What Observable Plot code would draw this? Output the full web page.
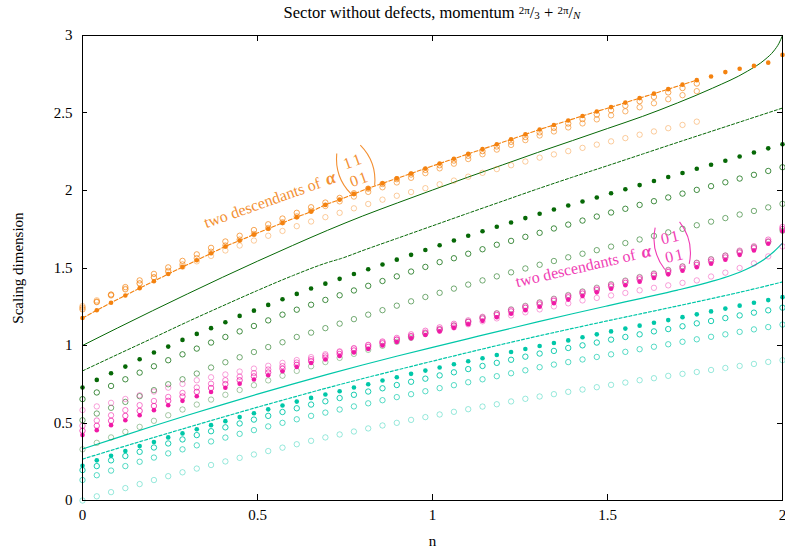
<!DOCTYPE html>
<html>
<head>
<meta charset="utf-8">
<script src="https://cdn.jsdelivr.net/npm/d3@7"></script>
<script src="https://cdn.jsdelivr.net/npm/@observablehq/plot@0.6"></script>
<style>
  html, body { margin: 0; padding: 0; background: #fff; }
  #chart svg { display: block; }
</style>
</head>
<body>
<div id="chart"></div>
<script>
// Sample positions n = 2k/49, k = 0..49
const N_GRID = [0, 0.0408, 0.0816, 0.1224, 0.1633, 0.2041, 0.2449, 0.2857, 0.3265, 0.3673,
  0.4082, 0.449, 0.4898, 0.5306, 0.5714, 0.6122, 0.6531, 0.6939, 0.7347, 0.7755,
  0.8163, 0.8571, 0.898, 0.9388, 0.9796, 1.0204, 1.0612, 1.102, 1.1429, 1.1837,
  1.2245, 1.2653, 1.3061, 1.3469, 1.3878, 1.4286, 1.4694, 1.5102, 1.551, 1.5918,
  1.6327, 1.6735, 1.7143, 1.7551, 1.7959, 1.8367, 1.8776, 1.9184, 1.9592, 2.0];

// Orange family (alpha with matrix 11/01)
const orangeFilled = [1.177, 1.227, 1.276, 1.323, 1.37, 1.415, 1.461, 1.506, 1.55, 1.595,
  1.639, 1.677, 1.716, 1.753, 1.791, 1.828, 1.864, 1.907, 1.941, 1.978,
  2.014, 2.046, 2.078, 2.11, 2.142, 2.174, 2.205, 2.236, 2.267, 2.298,
  2.33, 2.362, 2.394, 2.423, 2.452, 2.481, 2.51, 2.538, 2.567, 2.596,
  2.625, 2.654, 2.683, 2.712, 2.735, 2.764, 2.785, 2.804, 2.825, 2.875];
const orangeOpenA = [1.233, 1.28, 1.328, 1.377, 1.42, 1.462, 1.504, 1.546, 1.588, 1.63,
  1.671, 1.708, 1.745, 1.782, 1.819, 1.856, 1.892, 1.922, 1.952, 1.982,
  2.012, 2.042, 2.073, 2.103, 2.133, 2.163, 2.193, 2.224, 2.254, 2.284,
  2.314, 2.345, 2.375, 2.404, 2.432, 2.461, 2.49, 2.518, 2.547, 2.576,
  2.604, 2.633, 2.661, 2.69];
const orangeOpenB = [1.245, 1.284, 1.323, 1.362, 1.4, 1.441, 1.482, 1.523, 1.564, 1.605,
  1.645, 1.683, 1.72, 1.758, 1.795, 1.833, 1.87, 1.9, 1.93, 1.961,
  1.991, 2.021, 2.052, 2.082, 2.112, 2.143, 2.173, 2.203, 2.234, 2.264,
  2.294, 2.325, 2.355, 2.381, 2.407, 2.433, 2.459, 2.485, 2.511, 2.537,
  2.563, 2.589, 2.615, 2.641];
const orangeLight = [1.255, 1.292, 1.329, 1.366, 1.402, 1.438, 1.473, 1.508, 1.543, 1.578,
  1.613, 1.645, 1.677, 1.708, 1.739, 1.77, 1.8, 1.828, 1.856, 1.885,
  1.913, 1.941, 1.966, 1.99, 2.015, 2.04, 2.064, 2.089, 2.114, 2.138,
  2.163, 2.187, 2.212, 2.233, 2.254, 2.275, 2.296, 2.317, 2.338, 2.36,
  2.381, 2.402, 2.423, 2.444];

// Green family
const greenFilled = [0.729, 0.778, 0.821, 0.864, 0.911, 0.955, 0.993, 1.036, 1.075, 1.112,
  1.15, 1.191, 1.225, 1.262, 1.298, 1.333, 1.368, 1.399, 1.43, 1.461,
  1.492, 1.523, 1.554, 1.585, 1.616, 1.647, 1.677, 1.708, 1.737, 1.766,
  1.794, 1.822, 1.85, 1.877, 1.903, 1.929, 1.955, 1.982, 2.008, 2.035,
  2.061, 2.087, 2.113, 2.14, 2.166, 2.192, 2.219, 2.245, 2.272, 2.298];
const greenOpenA = [0.654, 0.697, 0.739, 0.782, 0.825, 0.866, 0.905, 0.943, 0.98, 1.019,
  1.055, 1.091, 1.126, 1.162, 1.199, 1.231, 1.263, 1.294, 1.324, 1.355,
  1.385, 1.416, 1.446, 1.477, 1.507, 1.538, 1.563, 1.592, 1.621, 1.65,
  1.675, 1.701, 1.727, 1.755, 1.78, 1.806, 1.832, 1.858, 1.882, 1.907,
  1.931, 1.955, 1.98, 2.004, 2.028, 2.053, 2.077, 2.101, 2.126, 2.15];
const greenOpenB = [0.518, 0.561, 0.598, 0.636, 0.673, 0.712, 0.75, 0.782, 0.819, 0.858,
  0.892, 0.924, 0.958, 0.99, 1.021, 1.055, 1.083, 1.112, 1.141, 1.17,
  1.199, 1.228, 1.257, 1.285, 1.313, 1.34, 1.367, 1.393, 1.42, 1.446,
  1.472, 1.497, 1.521, 1.545, 1.569, 1.592, 1.615, 1.638, 1.661, 1.684,
  1.707, 1.73, 1.753, 1.776, 1.799, 1.822, 1.845, 1.868, 1.891, 1.914];
const greenOpenC = [0.33, 0.372, 0.407, 0.443, 0.475, 0.514, 0.55, 0.587, 0.619, 0.651,
  0.682, 0.713, 0.744, 0.775, 0.805, 0.836, 0.866, 0.893, 0.92, 0.946,
  0.972, 0.998, 1.024, 1.05, 1.076, 1.102, 1.128, 1.154, 1.18, 1.207,
  1.233, 1.256, 1.279, 1.302, 1.326, 1.349, 1.373, 1.396, 1.419, 1.442,
  1.465, 1.488, 1.511, 1.534, 1.557, 1.58, 1.607, 1.635, 1.668, 1.74];

// Magenta family (alpha with matrix 01/01)
const pinkFilled = [0.422, 0.454, 0.486, 0.518, 0.55, 0.583, 0.615, 0.643, 0.673, 0.7,
  0.727, 0.754, 0.781, 0.808, 0.834, 0.861, 0.887, 0.91, 0.933, 0.955,
  0.978, 1.0, 1.023, 1.046, 1.068, 1.091, 1.114, 1.137, 1.159, 1.182,
  1.205, 1.228, 1.25, 1.273, 1.296, 1.32, 1.343, 1.366, 1.389, 1.412,
  1.436, 1.459, 1.482, 1.505, 1.527, 1.553, 1.585, 1.613, 1.656, 1.737];
const pinkOpenA = [0.45, 0.482, 0.514, 0.546, 0.578, 0.61, 0.643, 0.671, 0.701, 0.726,
  0.751, 0.776, 0.801, 0.826, 0.85, 0.875, 0.899, 0.922, 0.945, 0.968,
  0.991, 1.014, 1.037, 1.06, 1.083, 1.106, 1.129, 1.152, 1.174, 1.197,
  1.22, 1.243, 1.265, 1.288, 1.311, 1.335, 1.358, 1.381, 1.404, 1.427,
  1.451, 1.474, 1.497, 1.52, 1.542, 1.568, 1.6, 1.628, 1.671, 1.752];
const pinkOpenB = [0.482, 0.516, 0.55, 0.583, 0.615, 0.642, 0.668, 0.694, 0.729, 0.753,
  0.776, 0.799, 0.822, 0.845, 0.867, 0.89, 0.912, 0.935, 0.958, 0.981,
  1.004, 1.026, 1.049, 1.072, 1.095, 1.117, 1.14, 1.162, 1.185, 1.207,
  1.23, 1.252, 1.275, 1.298, 1.321, 1.345, 1.368, 1.391, 1.415, 1.438,
  1.461, 1.484, 1.508, 1.532, 1.554, 1.58, 1.612, 1.64, 1.683, 1.765];
const pinkLight = [0.583, 0.607, 0.63, 0.655, 0.679, 0.703, 0.728, 0.752, 0.776, 0.795,
  0.813, 0.832, 0.851, 0.869, 0.888, 0.906, 0.925, 0.944, 0.963, 0.983,
  1.002, 1.021, 1.04, 1.06, 1.079, 1.098, 1.117, 1.137, 1.156, 1.175,
  1.194, 1.214, 1.233, 1.252, 1.272, 1.291, 1.307, 1.323, 1.339, 1.356,
  1.372, 1.388, 1.404, 1.42, 1.445, 1.47, 1.5, 1.53, 1.575, 1.639];

// Teal family
const tealFilled = [0.224, 0.259, 0.289, 0.319, 0.351, 0.377, 0.407, 0.433, 0.46, 0.486,
  0.512, 0.538, 0.563, 0.588, 0.613, 0.638, 0.662, 0.684, 0.705, 0.729,
  0.75, 0.774, 0.795, 0.817, 0.838, 0.858, 0.879, 0.898, 0.918, 0.939,
  0.958, 0.977, 0.997, 1.016, 1.033, 1.053, 1.072, 1.091, 1.109, 1.128,
  1.147, 1.164, 1.183, 1.201, 1.22, 1.238, 1.257, 1.276, 1.293, 1.312];
const tealOpenA = [0.196, 0.222, 0.259, 0.287, 0.314, 0.342, 0.368, 0.394, 0.422, 0.447,
  0.472, 0.497, 0.522, 0.546, 0.571, 0.595, 0.619, 0.64, 0.661, 0.682,
  0.703, 0.724, 0.745, 0.766, 0.786, 0.807, 0.827, 0.848, 0.868, 0.888,
  0.908, 0.928, 0.948, 0.965, 0.984, 1.001, 1.019, 1.038, 1.055, 1.072,
  1.091, 1.106, 1.124, 1.143, 1.158, 1.177, 1.194, 1.212, 1.227, 1.244];
const tealOpenB = [0.132, 0.163, 0.193, 0.222, 0.25, 0.277, 0.304, 0.33, 0.356, 0.381,
  0.406, 0.43, 0.454, 0.478, 0.501, 0.524, 0.546, 0.567, 0.587, 0.607,
  0.627, 0.647, 0.667, 0.686, 0.705, 0.725, 0.744, 0.763, 0.782, 0.802,
  0.821, 0.84, 0.86, 0.877, 0.893, 0.91, 0.926, 0.943, 0.959, 0.976,
  0.992, 1.008, 1.024, 1.04, 1.056, 1.072, 1.088, 1.104, 1.119, 1.135];
const tealLight = [0.0, 0.027, 0.054, 0.08, 0.106, 0.132, 0.157, 0.182, 0.206, 0.229,
  0.252, 0.275, 0.297, 0.319, 0.341, 0.363, 0.385, 0.407, 0.426, 0.445,
  0.465, 0.484, 0.501, 0.52, 0.538, 0.555, 0.572, 0.589, 0.606, 0.621,
  0.639, 0.656, 0.671, 0.686, 0.701, 0.716, 0.731, 0.746, 0.761, 0.776,
  0.789, 0.804, 0.817, 0.829, 0.842, 0.855, 0.868, 0.881, 0.894, 0.905];

// Continuum curves
const greenSolidN = [0, 0.1, 0.2, 0.3, 0.4, 0.5, 0.6, 0.7, 0.8, 0.9, 1.0, 1.1, 1.2, 1.3, 1.4, 1.5, 1.6, 1.7, 1.8, 1.9, 1.95, 1.975, 1.99, 2.0];
const greenSolidV = [1.0, 1.113, 1.224, 1.333, 1.44, 1.544, 1.645, 1.743, 1.835, 1.92, 2.003, 2.085, 2.165, 2.245, 2.322, 2.4, 2.478, 2.565, 2.66, 2.77, 2.845, 2.9, 2.95, 3.0];
const greenDashedN = [0, 0.1, 0.2, 0.3, 0.4, 0.5, 0.6, 0.7, 0.74, 0.8, 0.9, 1.0, 1.1, 1.2, 1.3, 1.4, 1.5, 1.6, 1.7, 1.8, 1.9, 2.0];
const greenDashedV = [0.836, 0.942, 1.047, 1.153, 1.255, 1.355, 1.45, 1.535, 1.562, 1.612, 1.692, 1.772, 1.852, 1.931, 2.01, 2.086, 2.16, 2.235, 2.31, 2.384, 2.458, 2.532];
const tealSolidN = [0, 0.1, 0.2, 0.3, 0.4, 0.5, 0.6, 0.7, 0.8, 0.9, 1.0, 1.1, 1.2, 1.3, 1.4, 1.5, 1.6, 1.7, 1.8, 1.85, 1.9, 1.95, 1.975, 1.99, 2.0];
const tealSolidV = [0.332, 0.406, 0.479, 0.55, 0.619, 0.686, 0.751, 0.814, 0.874, 0.932, 0.988, 1.043, 1.098, 1.152, 1.205, 1.256, 1.306, 1.357, 1.415, 1.45, 1.495, 1.56, 1.605, 1.638, 1.66];
const tealDashedN = [0, 0.1, 0.2, 0.3, 0.4, 0.5, 0.6, 0.7, 0.8, 0.9, 1.0, 1.1, 1.2, 1.3, 1.4, 1.5, 1.6, 1.7, 1.8, 1.9, 2.0];
const tealDashedV = [0.267, 0.336, 0.404, 0.471, 0.537, 0.602, 0.665, 0.727, 0.786, 0.843, 0.899, 0.954, 1.008, 1.06, 1.11, 1.159, 1.207, 1.255, 1.304, 1.355, 1.41];

const xTicks = [0, 0.5, 1, 1.5, 2];
const yTicks = [0, 0.5, 1, 1.5, 2, 2.5, 3];

const ORANGE = "#f4820f";
const GREEN = "#066806";
const PINK = "#f01aa6";
const TEAL = "#00c7a8";
const FONT = "'Liberation Serif', 'DejaVu Serif', 'Noto Serif', 'Times New Roman', serif";

const rows = (vals) => vals.map((v, i) => ({n: N_GRID[i], v}));
const pairs = (ns, vs) => ns.map((n, i) => ({n, v: vs[i]}));

const filledDots = (vals, color) =>
  Plot.dot(rows(vals), {x: "n", y: "v", r: 2.3, fill: color, stroke: "none"});
const openDots = (vals, color, opacity) =>
  Plot.dot(rows(vals), {x: "n", y: "v", r: 2.7, fill: "none", stroke: color, strokeOpacity: opacity, strokeWidth: 1});
const curve = (data, color, dash, width = 1) =>
  Plot.line(data, {x: "n", y: "v", stroke: color, strokeWidth: width, strokeDasharray: dash, curve: "monotone-x"});

// Inward ticks on all four sides of the frame
function innerTicks(index, scales, values, dims) {
  const {width, height, marginLeft, marginRight, marginTop, marginBottom} = dims;
  const left = marginLeft, right = width - marginRight, top = marginTop, bottom = height - marginBottom;
  const g = d3.create("svg:g").attr("stroke", "#000").attr("stroke-width", 1);
  for (const t of xTicks) {
    const px = Math.round(scales.x(t)) + 0.5;
    g.append("line").attr("x1", px).attr("x2", px).attr("y1", bottom).attr("y2", bottom - 6);
    g.append("line").attr("x1", px).attr("x2", px).attr("y1", top).attr("y2", top + 6);
  }
  for (const t of yTicks) {
    const py = Math.round(scales.y(t)) + 0.5;
    g.append("line").attr("y1", py).attr("y2", py).attr("x1", left).attr("x2", left + 5);
    g.append("line").attr("y1", py).attr("y2", py).attr("x1", right).attr("x2", right - 5);
  }
  return g.node();
}

// Title with the two slashed fractions
function title(index, scales, values, dims) {
  const {width, marginLeft, marginRight} = dims;
  const cx = (marginLeft + width - marginRight) / 2;
  const t = d3.create("svg:text")
    .attr("x", cx).attr("y", 18).attr("text-anchor", "middle")
    .attr("font-family", FONT).attr("font-size", 16.5).attr("fill", "#000");
  t.append("tspan").text("Sector without defects, momentum ");
  t.append("tspan").attr("font-size", 11).attr("dy", -4).text("2π");
  t.append("tspan").attr("dy", 4).text("/");
  t.append("tspan").attr("font-size", 11).attr("dy", 1).text("3");
  t.append("tspan").attr("dy", -1).text(" + ");
  t.append("tspan").attr("font-size", 11).attr("dy", -4).text("2π");
  t.append("tspan").attr("dy", 4).text("/");
  t.append("tspan").attr("font-size", 11).attr("dy", 1).attr("font-style", "italic").text("N");
  return t.node();
}

// Rotated label "two descendants of α(matrix)"
function annotation(n0, v0, angle, color, row1, row2) {
  return (index, scales) => {
    const g = d3.create("svg:g")
      .attr("transform", `translate(${scales.x(n0)},${scales.y(v0)}) rotate(${-angle})`)
      .attr("fill", color).attr("font-family", FONT).attr("font-size", 16)
      .attr("text-anchor", "start");
    g.append("text").attr("x", 0).attr("y", 0).text("two descendants of");
    g.append("text").attr("x", 129).attr("y", 0).attr("font-style", "italic").attr("font-weight", "bold")
      .attr("font-size", 18).text("α");
    g.append("path").attr("d", "M148,-27 Q138,-5.5 148,16").attr("fill", "none").attr("stroke", color).attr("stroke-width", 1.1);
    g.append("path").attr("d", "M173,-27 Q183,-5.5 173,16").attr("fill", "none").attr("stroke", color).attr("stroke-width", 1.1);
    g.append("text").attr("x", 151).attr("y", -9).text(row1[0]);
    g.append("text").attr("x", 161).attr("y", -9).text(row1[1]);
    g.append("text").attr("x", 151).attr("y", 10).text(row2[0]);
    g.append("text").attr("x", 161).attr("y", 10).text(row2[1]);
    return g.node();
  };
}

const chart = Plot.plot({
  width: 785,
  height: 549,
  marginLeft: 82,
  marginRight: 3,
  marginTop: 35,
  marginBottom: 49,
  x: {domain: [0, 2]},
  y: {domain: [0, 3]},
  style: {fontFamily: FONT, fontSize: "15px", color: "#000", background: "#fff", overflow: "visible"},
  marks: [
    Plot.axisX(xTicks, {tickSize: 0, tickPadding: 9, tickFormat: (d) => String(d), label: null, fontSize: 15, fontFamily: FONT}),
    Plot.axisY(yTicks, {tickSize: 0, tickPadding: 10, tickFormat: (d) => String(d), label: null, fontSize: 15, fontFamily: FONT}),
    Plot.text(["n"], {frameAnchor: "bottom", textAnchor: "middle", lineAnchor: "middle", dy: 41, fontSize: 15, fontFamily: FONT}),
    Plot.text(["Scaling dimension"], {frameAnchor: "left", textAnchor: "middle", lineAnchor: "middle", rotate: -90, dx: -64, fontSize: 15, fontFamily: FONT}),

    // curves
    curve(pairs(greenSolidN, greenSolidV), GREEN, null),
    curve(pairs(greenDashedN, greenDashedV), GREEN, "3,2"),
    curve(pairs(tealSolidN, tealSolidV), TEAL, null, 1.2),
    curve(pairs(tealDashedN, tealDashedV), TEAL, "3,2", 1.2),
    curve(rows(orangeFilled.slice(0, 44)), ORANGE, "4,2", 1.1),

    // teal levels
    openDots(tealLight, TEAL, 0.4),
    openDots(tealOpenB, TEAL, 0.65),
    openDots(tealOpenA, TEAL, 0.9),
    filledDots(tealFilled, TEAL),

    // green levels
    openDots(greenOpenC, GREEN, 0.35),
    openDots(greenOpenB, GREEN, 0.55),
    openDots(greenOpenA, GREEN, 0.75),
    filledDots(greenFilled, GREEN),

    // magenta levels
    openDots(pinkLight, PINK, 0.4),
    openDots(pinkOpenB, PINK, 0.55),
    openDots(pinkOpenA, PINK, 0.75),
    filledDots(pinkFilled, PINK),

    // orange levels
    openDots(orangeLight, ORANGE, 0.4),
    openDots(orangeOpenB, ORANGE, 0.6),
    openDots(orangeOpenA, ORANGE, 0.7),
    filledDots(orangeFilled, ORANGE),

    annotation(0.355, 1.753, 19.5, "#f39033", ["1", "1"], ["0", "1"]),
    annotation(1.243, 1.373, 13, "#f03cb4", ["0", "1"], ["0", "1"]),

    Plot.frame({stroke: "#000", strokeWidth: 1}),
    innerTicks,
    title
  ]
});

document.getElementById("chart").append(chart);
</script>
</body>
</html>
